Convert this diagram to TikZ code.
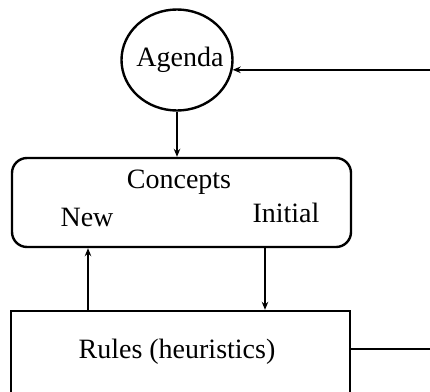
\documentclass[tikz,border=0pt]{standalone}
\usepackage{fontspec}
\setmainfont{Liberation Serif}
\usetikzlibrary{shapes.geometric,arrows.meta}
\begin{document}
\begin{tikzpicture}[x=1pt,y=-1pt,
  line width=2.4pt,
  arr/.style={-{Stealth[length=8pt,width=6.5pt]}},
  lbl/.style={font=\fontsize{28}{32}\selectfont, inner sep=0pt},
  blk/.style={draw, line width=2.4pt, inner sep=0pt}]
\clip (0,0) rectangle (430,391);
\useasboundingbox (0,0) rectangle (430,391);
\node[blk, ellipse, minimum width=111pt, minimum height=101pt] (agenda) at (177,60) {};
\node[lbl] (agendat) at (180,60) {Agenda};
\node[blk, rounded corners=15pt, minimum width=339pt, minimum height=89pt] (concepts) at (181.5,202.5) {};
\node[lbl] (ct) at (179,182) {Concepts};
\node[lbl] (newt) at (87,217) {New};
\node[lbl] (initt) at (286,213) {Initial};
\node[blk, minimum width=339pt, minimum height=140pt] (rules) at (180.5,381) {};
\node[lbl] (rt) at (177,352) {Rules (heuristics)};
\coordinate (eA) at (430,69);
\coordinate (eR) at (430,349);
\coordinate (up) at (88,0);
\coordinate (down) at (265,0);
\draw[arr] (agenda.south) -- (agenda.south |- concepts.north);
\draw[arr] (up |- rules.north) -- (up |- concepts.south);
\draw[arr] (down |- concepts.south) -- (down |- rules.north);
\draw[arr] (eA) -- (agenda.-10 -| eA) -- (agenda.-10);
\draw (rules.east |- eR) -- (eR);
\end{tikzpicture}
\end{document}
